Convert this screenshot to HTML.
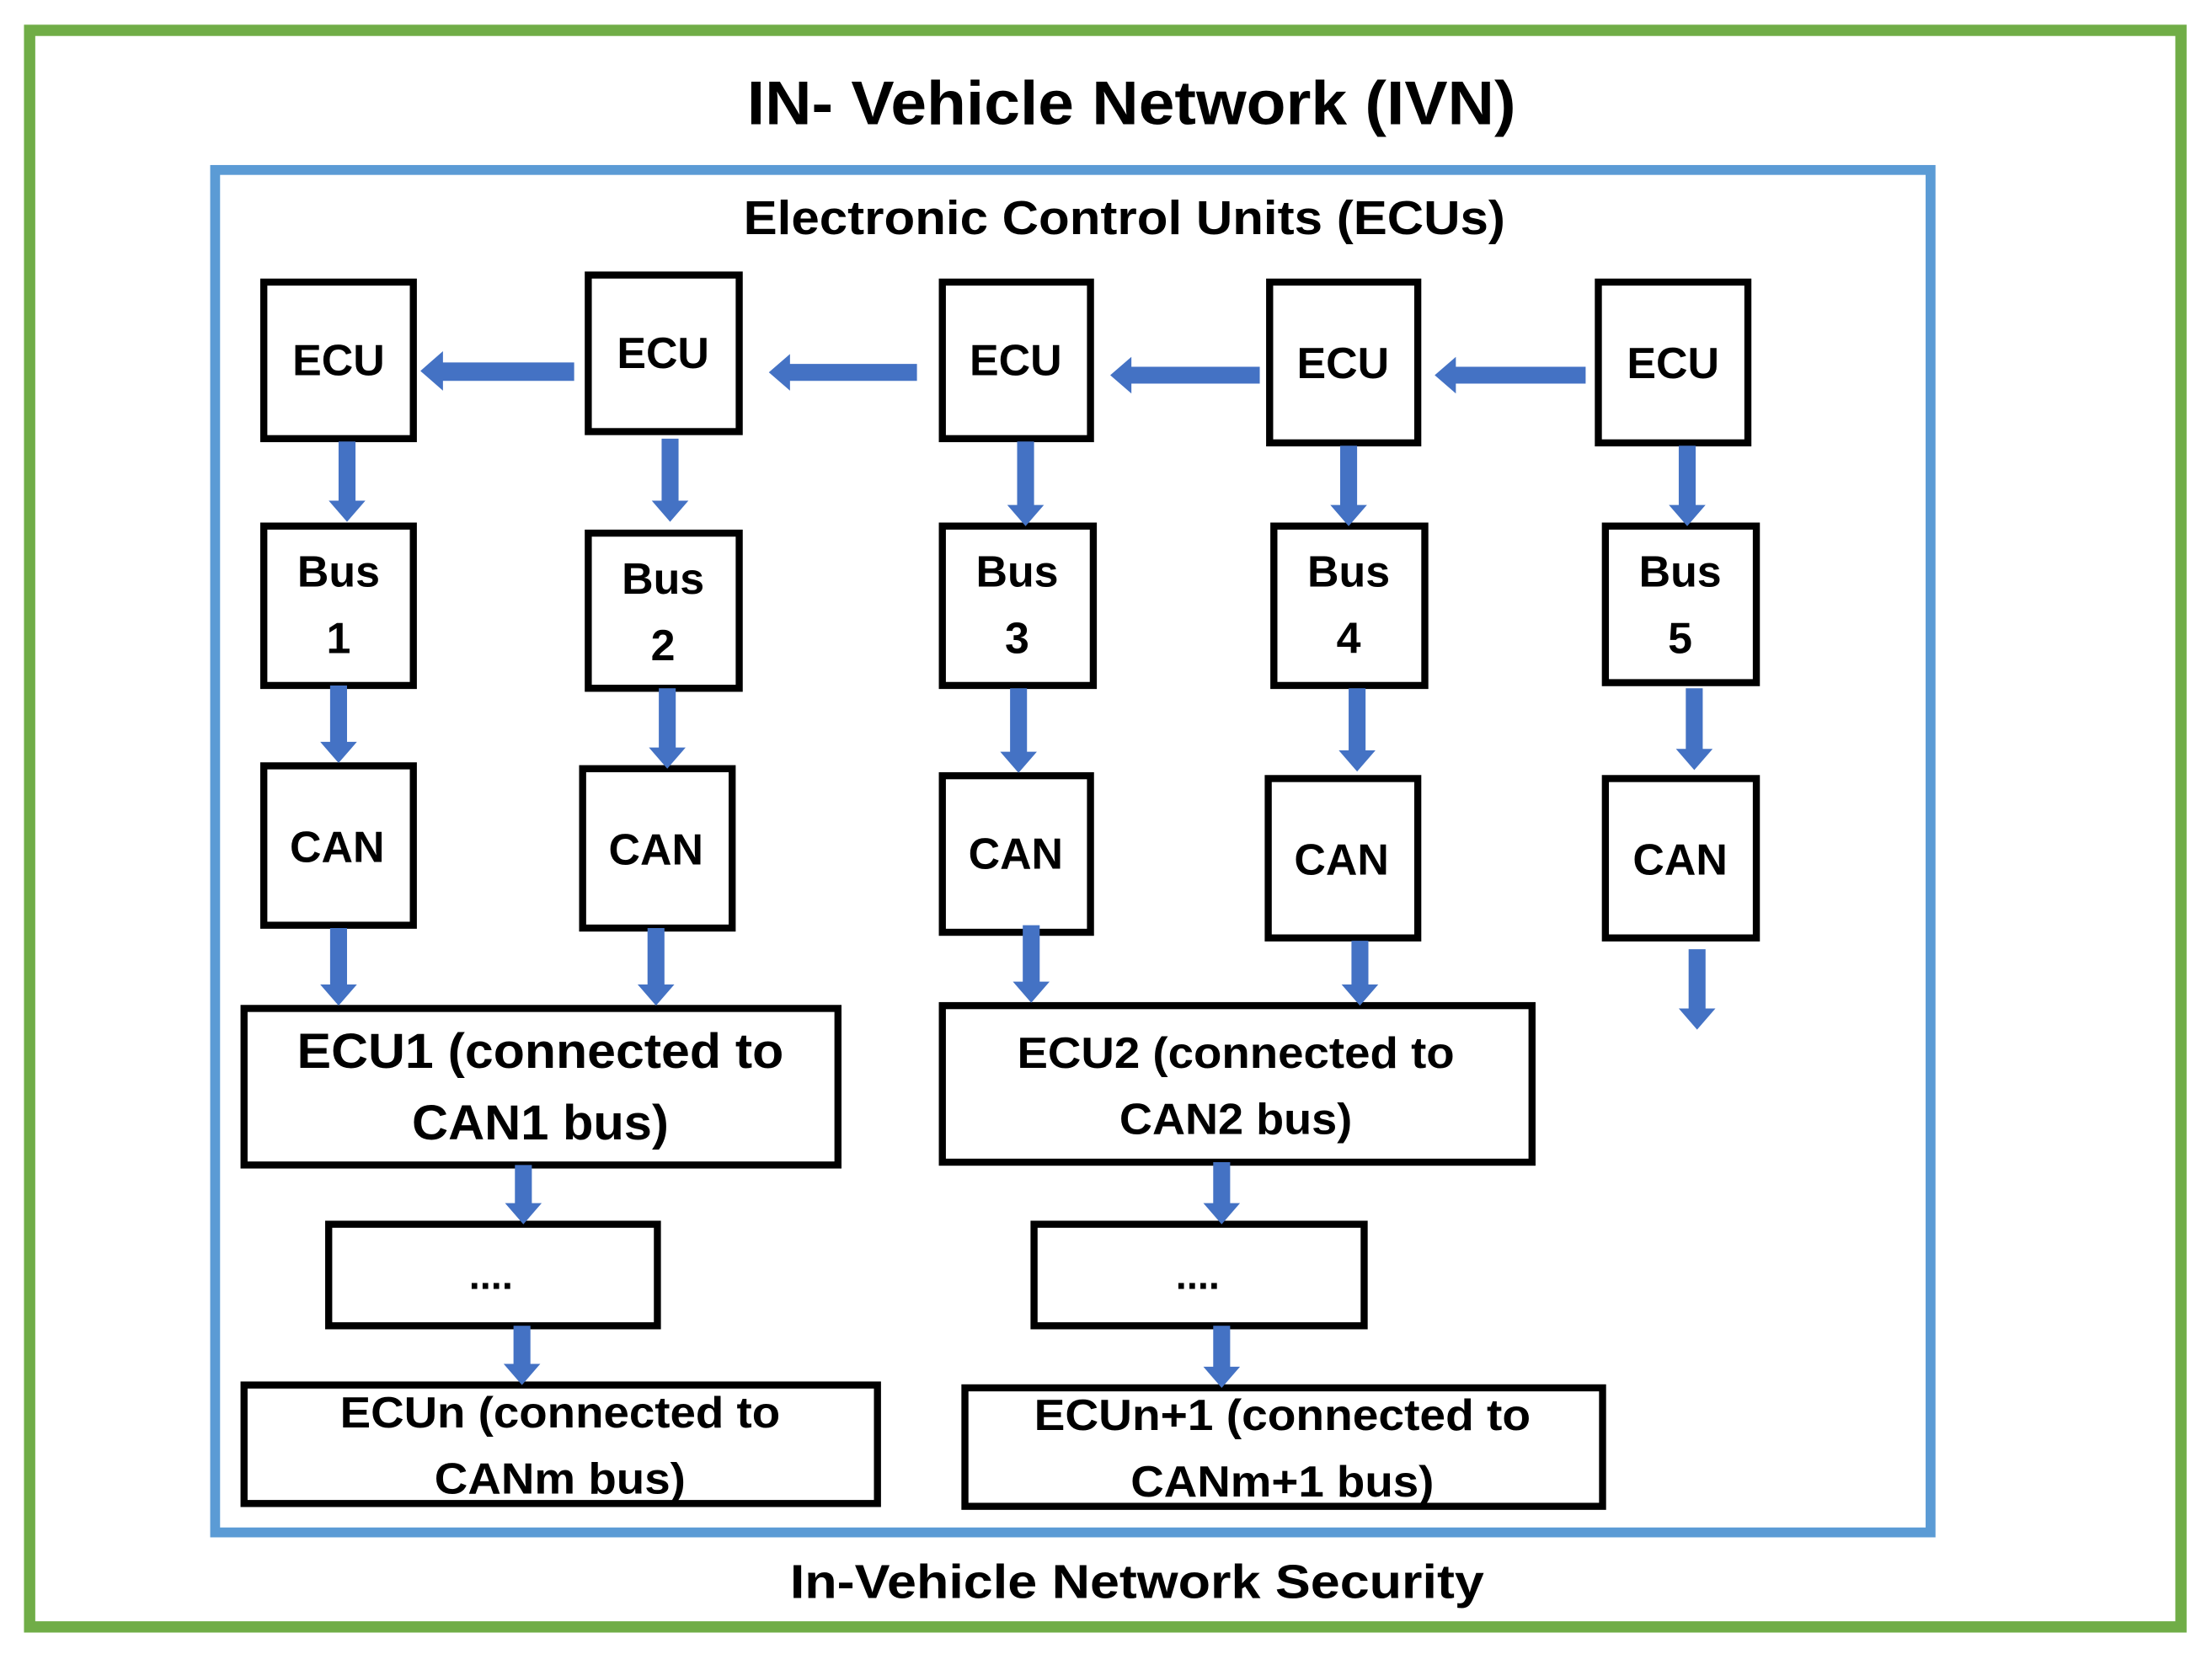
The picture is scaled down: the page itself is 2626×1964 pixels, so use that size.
<!DOCTYPE html>
<html><head><meta charset="utf-8"><style>html,body{margin:0;padding:0;background:#fff}svg{display:block}</style></head>
<body>
<svg width="2626" height="1964" viewBox="0 0 1568 1172.7" xmlns="http://www.w3.org/2000/svg" font-family="'Liberation Sans', sans-serif" font-weight="bold">
<rect x="21" y="21.5" width="1525" height="1132" fill="none" stroke="#70ad47" stroke-width="8"/>
<rect x="152.5" y="120.5" width="1216" height="966" fill="none" stroke="#5b9bd5" stroke-width="7"/>
<text x="802" y="88" font-size="44" text-anchor="middle" textLength="545" lengthAdjust="spacingAndGlyphs">IN- Vehicle Network (IVN)</text>
<text x="797" y="166" font-size="34" text-anchor="middle" textLength="540" lengthAdjust="spacingAndGlyphs">Electronic Control Units (ECUs)</text>
<text x="806" y="1133" font-size="34" text-anchor="middle" textLength="492" lengthAdjust="spacingAndGlyphs">In-Vehicle Network Security</text>
<g fill="none" stroke="#000" stroke-width="5">
<rect x="187" y="200" width="106" height="111"/>
<rect x="417" y="195" width="107" height="111"/>
<rect x="668" y="200" width="105" height="111"/>
<rect x="900" y="200" width="105" height="114"/>
<rect x="1133" y="200" width="106" height="114"/>
<rect x="187" y="373" width="106" height="113"/>
<rect x="417" y="378" width="107" height="110"/>
<rect x="668" y="373" width="107" height="113"/>
<rect x="903" y="373" width="107" height="113"/>
<rect x="1138" y="373" width="107" height="111"/>
<rect x="187" y="543" width="106" height="113"/>
<rect x="413" y="545" width="106" height="113"/>
<rect x="668" y="550" width="105" height="111"/>
<rect x="899" y="552" width="106" height="113"/>
<rect x="1138" y="552" width="107" height="113"/>
<rect x="173" y="715" width="421" height="111"/>
<rect x="668" y="713" width="418" height="111"/>
<rect x="233" y="868" width="233" height="72"/>
<rect x="733" y="868" width="234" height="72"/>
<rect x="173" y="982" width="449" height="84"/>
<rect x="684" y="984" width="452" height="84"/>
</g>
<g font-size="31" text-anchor="middle">
<text x="240" y="266">ECU</text><text x="470" y="261">ECU</text><text x="720" y="266">ECU</text><text x="952" y="268">ECU</text><text x="1186" y="268">ECU</text>
<text x="240" y="416">Bus</text><text x="240" y="463">1</text>
<text x="470" y="421">Bus</text><text x="470" y="468">2</text>
<text x="721" y="416">Bus</text><text x="721" y="463">3</text>
<text x="956" y="416">Bus</text><text x="956" y="463">4</text>
<text x="1191" y="416">Bus</text><text x="1191" y="463">5</text>
<text x="239" y="611">CAN</text><text x="465" y="613">CAN</text><text x="720" y="616">CAN</text><text x="951" y="620">CAN</text><text x="1191" y="620">CAN</text>
</g>
<g text-anchor="middle">
<text x="383" y="757" font-size="35" textLength="345" lengthAdjust="spacingAndGlyphs">ECU1 (connected to</text>
<text x="383" y="808" font-size="35" textLength="182" lengthAdjust="spacingAndGlyphs">CAN1 bus)</text>
<text x="876" y="757" font-size="31" textLength="310" lengthAdjust="spacingAndGlyphs">ECU2 (connected to</text>
<text x="876" y="804" font-size="31" textLength="165" lengthAdjust="spacingAndGlyphs">CAN2 bus)</text>
<text x="348" y="914" font-size="28">....</text>
<text x="849" y="914" font-size="28">....</text>
<text x="397" y="1012" font-size="31" textLength="312" lengthAdjust="spacingAndGlyphs">ECUn (connected to</text>
<text x="397" y="1059" font-size="31" textLength="178" lengthAdjust="spacingAndGlyphs">CANm bus)</text>
<text x="909" y="1014" font-size="31" textLength="352" lengthAdjust="spacingAndGlyphs">ECUn+1 (connected to</text>
<text x="909" y="1061" font-size="31" textLength="215" lengthAdjust="spacingAndGlyphs">CANm+1 bus)</text>
</g>
<g fill="#4472c4">
<polygon points="298,263 314,249 314,257 407,257 407,270 314,270 314,277"/>
<polygon points="545,264 560,251 560,258 650,258 650,270 560,270 560,277"/>
<polygon points="787,266 802,253 802,260 893,260 893,272 802,272 802,279"/>
<polygon points="1017,266 1032,253 1032,260 1124,260 1124,272 1032,272 1032,279"/>
<polygon points="240,313 252,313 252,355 259,355 246,370 233,355 240,355"/>
<polygon points="234,486 246,486 246,526 253,526 240,541 227,526 234,526"/>
<polygon points="234,658 246,658 246,698 253,698 240,713 227,698 234,698"/>
<polygon points="469,311 481,311 481,355 488,355 475,370 462,355 469,355"/>
<polygon points="467,488 479,488 479,530 486,530 473,545 460,530 467,530"/>
<polygon points="459,658 471,658 471,698 478,698 465,713 452,698 459,698"/>
<polygon points="721,313 733,313 733,358 740,358 727,373 714,358 721,358"/>
<polygon points="716,488 728,488 728,533 735,533 722,548 709,533 716,533"/>
<polygon points="725,656 737,656 737,696 744,696 731,711 718,696 725,696"/>
<polygon points="950,316 962,316 962,358 969,358 956,373 943,358 950,358"/>
<polygon points="956,488 968,488 968,532 975,532 962,547 949,532 956,532"/>
<polygon points="958,667 970,667 970,698 977,698 964,713 951,698 958,698"/>
<polygon points="1190,316 1202,316 1202,358 1209,358 1196,373 1183,358 1190,358"/>
<polygon points="1195,488 1207,488 1207,531 1214,531 1201,546 1188,531 1195,531"/>
<polygon points="1197,673 1209,673 1209,715 1216,715 1203,730 1190,715 1197,715"/>
<polygon points="365,826 377,826 377,853 384,853 371,868 358,853 365,853"/>
<polygon points="364,940 376,940 376,967 383,967 370,982 357,967 364,967"/>
<polygon points="860,824 872,824 872,853 879,853 866,868 853,853 860,853"/>
<polygon points="860,940 872,940 872,969 879,969 866,984 853,969 860,969"/>
</g>
</svg>
</body></html>
